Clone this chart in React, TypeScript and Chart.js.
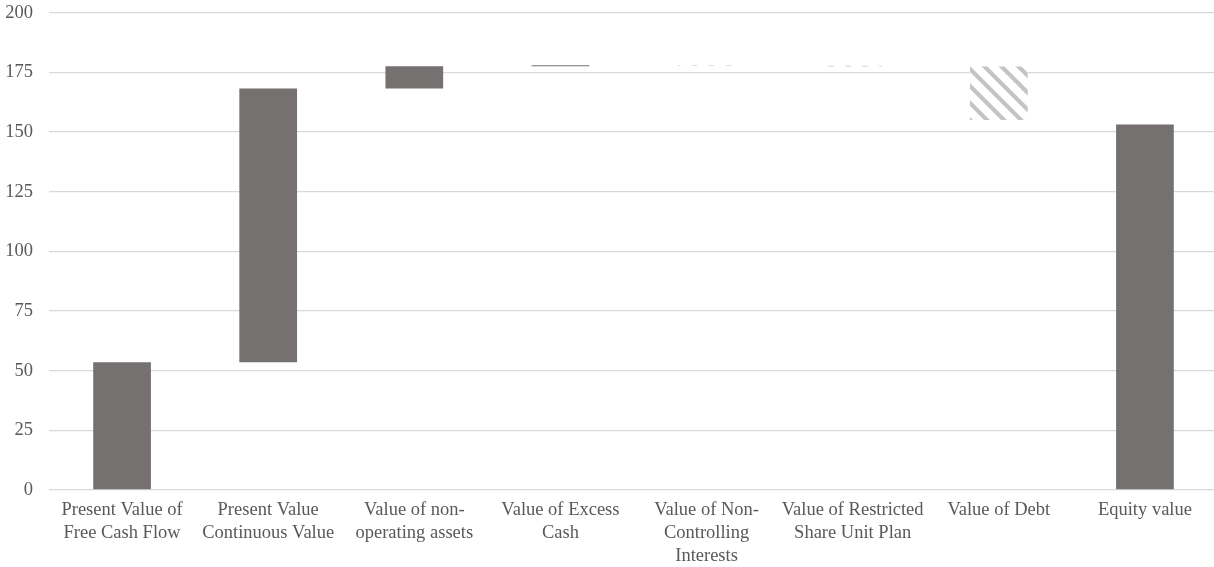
import React, { useEffect, useRef } from "react";
import { Chart, registerables } from "chart.js";

Chart.register(...registerables);

const categories: (string | string[])[] = [
  ["Present Value of", "Free Cash Flow"],
  ["Present Value", "Continuous Value"],
  ["Value of non-", "operating assets"],
  ["Value of Excess", "Cash"],
  ["Value of Non-", "Controlling", "Interests"],
  ["Value of Restricted", "Share Unit Plan"],
  "Value of Debt",
  "Equity value",
];

// step changes of the bridge (first seven categories)
const increments = [53.5, 114.7, 9.4, 0.4, -0.2, -0.3, -22.5];
// final total bar
const equityValue = 153.2;

const yTicks = [0, 25, 50, 75, 100, 125, 150, 175, 200];

const SOLID = "#767171";

function makeHatch(): CanvasPattern | string {
  const size = 17;
  const c = document.createElement("canvas");
  c.width = size;
  c.height = size;
  const ctx = c.getContext("2d");
  if (!ctx) return "#c4c4c4";
  ctx.fillStyle = "#ffffff";
  ctx.fillRect(0, 0, size, size);
  ctx.strokeStyle = "#c4c4c4";
  ctx.lineWidth = 4.2;
  ctx.beginPath();
  for (let k = -1; k <= 1; k++) {
    ctx.moveTo(k * size - 2, -2);
    ctx.lineTo(k * size + size + 2, size + 2);
  }
  ctx.stroke();
  const p = ctx.createPattern(c, "repeat");
  return p || "#c4c4c4";
}

export default function App() {
  const ref = useRef<HTMLCanvasElement | null>(null);

  useEffect(() => {
    if (!ref.current) return;
    const hatch = makeHatch();

    const ranges: [number, number][] = [];
    const colors: (string | CanvasPattern)[] = [];
    let level = 0;
    increments.forEach((d) => {
      const next = level + d;
      ranges.push([Math.min(level, next), Math.max(level, next)]);
      colors.push(d >= 0 ? SOLID : hatch);
      level = next;
    });
    ranges.push([0, equityValue]);
    colors.push(SOLID);

    const font = { family: "'Liberation Serif', 'Times New Roman', serif", size: 18.5 };

    const chart = new Chart(ref.current, {
      type: "bar",
      data: {
        labels: categories,
        datasets: [
          {
            data: ranges as any,
            backgroundColor: colors as any,
            borderWidth: 0,
            barPercentage: 0.395,
            categoryPercentage: 1,
          },
        ],
      },
      options: {
        animation: false,
        responsive: false,
        maintainAspectRatio: false,
        layout: { padding: { top: 12.7, left: 0, right: 0, bottom: 0 } },
        plugins: {
          legend: { display: false },
          tooltip: { enabled: false },
        },
        scales: {
          x: {
            offset: true,
            grid: { display: false, drawTicks: false },
            border: { display: false },
            ticks: {
              color: "#595959",
              font: { ...font, lineHeight: "23px" } as any,
              padding: 9,
              maxRotation: 0,
              autoSkip: false,
            },
            afterFit: (s: any) => {
              s.height = 77;
              s.paddingLeft = 0;
              s.paddingRight = 0;
            },
          },
          y: {
            min: 0,
            max: 200,
            afterBuildTicks: (s: any) => {
              s.ticks = yTicks.map((v) => ({ value: v }));
            },
            grid: { color: "#d9d9d9", lineWidth: 1.3, drawTicks: false },
            border: { display: false },
            ticks: {
              color: "#595959",
              font: font as any,
              padding: 16,
            },
            afterFit: (s: any) => {
              s.width = 49;
              s.paddingTop = 0;
              s.paddingBottom = 0;
            },
          },
        },
      },
    });
    return () => chart.destroy();
  }, []);

  return (
    <div
      style={{
        position: "fixed",
        left: 0,
        top: 0,
        width: 1214,
        height: 567,
        overflow: "hidden",
        background: "#ffffff",
      }}
    >
      <canvas ref={ref} width={1218} height={567} style={{ display: "block", width: 1218, height: 567 }} />
    </div>
  );
}
